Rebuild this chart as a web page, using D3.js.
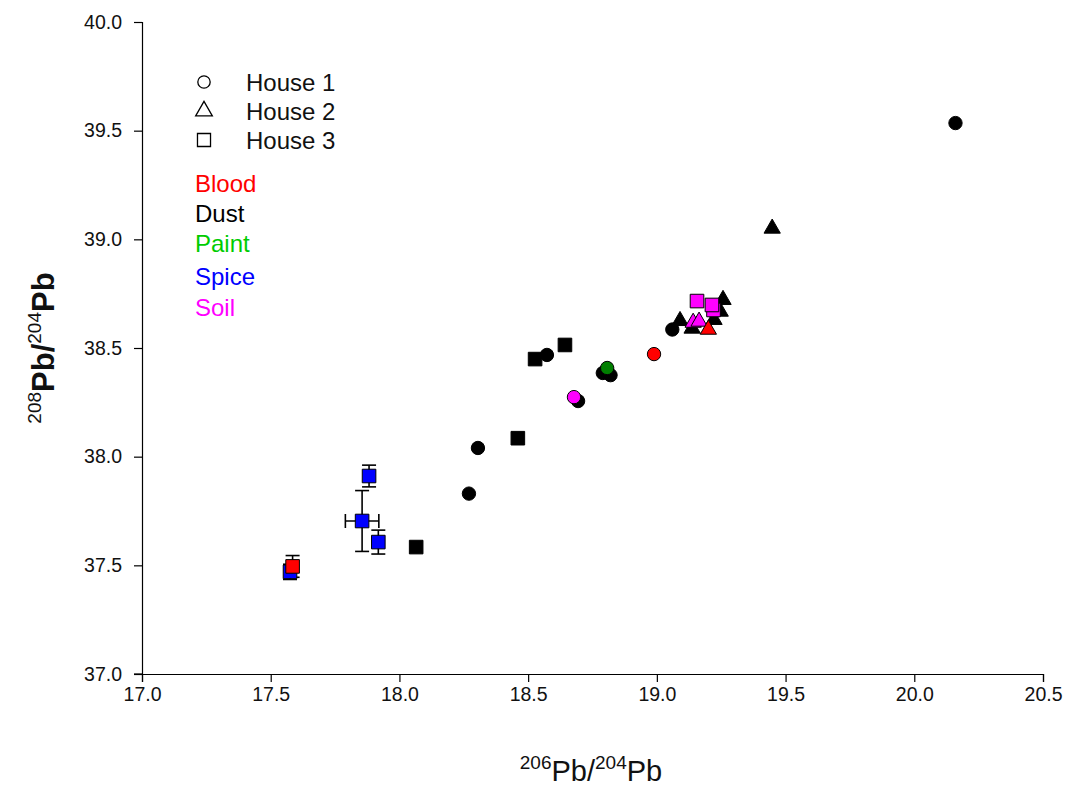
<!DOCTYPE html>
<html>
<head>
<meta charset="utf-8">
<script src="https://cdn.jsdelivr.net/npm/d3@7"></script>
<style>
  body { margin: 0; background: #fff; }
  text { font-family: "Liberation Sans", Arial, sans-serif; }
</style>
</head>
<body>
<svg id="chart" width="1073" height="786"></svg>
<script>
// ---------- data ----------
const xTicks = [17.0, 17.5, 18.0, 18.5, 19.0, 19.5, 20.0, 20.5];
const yTicks = [37.0, 37.5, 38.0, 38.5, 39.0, 39.5, 40.0];
const houses = ["House 1", "House 2", "House 3"];
const sampleTypes = ["Blood", "Dust", "Paint", "Spice", "Soil"];

// [x, y, xErr, yErr]
const house1Dust  = [[20.16, 39.535], [18.305, 38.04], [18.27, 37.83], [18.573, 38.468],
                     [18.79, 38.385], [18.82, 38.375], [18.694, 38.256], [19.06, 38.585]];
const house1Blood = [[18.989, 38.472]];
const house1Paint = [[18.807, 38.408]];
const house1Soil  = [[18.678, 38.274]];

const house2Dust  = [[19.448, 39.05], [19.09, 38.625], [19.137, 38.59], [19.222, 38.63],
                     [19.246, 38.668], [19.257, 38.722]];
const house2Blood = [[19.2, 38.585]];
const house2Soil  = [[19.141, 38.617], [19.164, 38.622]];

const house3Dust  = [[18.527, 38.449], [18.643, 38.514], [18.46, 38.085], [18.065, 37.584]];
const house3Spice = [[17.575, 37.47, 0, 0.035], [17.882, 37.911, 0, 0.05],
                     [17.855, 37.704, 0.065, 0.14], [17.918, 37.607, 0, 0.055]];
const house3Blood = [[17.585, 37.495, 0, 0.05]];
const house3Soil  = [[19.22, 38.675], [19.156, 38.716], [19.214, 38.698]];

// ---------- setup ----------
const colors = { Blood: "#ff0000", Dust: "#000000", Paint: "#007f00", Spice: "#0000ff", Soil: "#ff00ff" };
const legendColors = { Blood: "#ff0000", Dust: "#000000", Paint: "#00cc00", Spice: "#0000ff", Soil: "#ff00ff" };
const shapes = { "House 1": d3.symbolCircle, "House 2": d3.symbolTriangle, "House 3": d3.symbolSquare };
const sizes = { "House 1": 140, "House 2": 115, "House 3": 185 };

const series = [
  { house: "House 3", type: "Spice", data: house3Spice },
  { house: "House 3", type: "Blood", data: house3Blood },
  { house: "House 3", type: "Dust",  data: house3Dust },
  { house: "House 1", type: "Dust",  data: house1Dust },
  { house: "House 1", type: "Paint", data: house1Paint },
  { house: "House 1", type: "Soil",  data: house1Soil },
  { house: "House 1", type: "Blood", data: house1Blood },
  { house: "House 2", type: "Dust",  data: house2Dust },
  { house: "House 2", type: "Soil",  data: house2Soil },
  { house: "House 2", type: "Blood", data: house2Blood },
  { house: "House 3", type: "Soil",  data: house3Soil },
];

const svg = d3.select("#chart");
const m = { left: 142, top: 22, right: 1043, bottom: 674 };

const x = d3.scaleLinear().domain([17.0, 20.5]).range([m.left, m.right]);
const y = d3.scaleLinear().domain([37.0, 40.0]).range([m.bottom, m.top]);

// axes
const xAxis = svg.append("g").attr("transform", `translate(0,${m.bottom})`)
  .call(d3.axisBottom(x).tickValues(xTicks).tickFormat(d3.format(".1f")).tickSize(8).tickPadding(5));
const yAxis = svg.append("g").attr("transform", `translate(${m.left},0)`)
  .call(d3.axisLeft(y).tickValues(yTicks).tickFormat(d3.format(".1f")).tickSize(8).tickPadding(12));
[xAxis, yAxis].forEach(a => {
  a.selectAll("path").attr("stroke", "#000").attr("stroke-width", 1.2);
  a.selectAll("line").attr("stroke", "#000").attr("stroke-width", 1.2);
  a.selectAll("text").attr("font-size", 19.5).attr("fill", "#111")
    .attr("font-family", "'Liberation Sans', Arial, sans-serif");
});
svg.append("line").attr("x1", m.left - 8).attr("x2", m.left).attr("y1", m.bottom).attr("y2", m.bottom)
  .attr("stroke", "#000").attr("stroke-width", 1.2);

// axis titles
const xt = svg.append("text").attr("x", 591).attr("y", 781).attr("text-anchor", "middle")
  .attr("font-size", 29).attr("fill", "#111");
xt.append("tspan").attr("font-size", 19).attr("dy", -12).text("206");
xt.append("tspan").attr("dy", 12).text("Pb/");
xt.append("tspan").attr("font-size", 19).attr("dy", -12).text("204");
xt.append("tspan").attr("dy", 12).text("Pb");

const yt = svg.append("text").attr("transform", "translate(54,348) rotate(-90)")
  .attr("text-anchor", "middle").attr("font-size", 31).attr("font-weight", "bold").attr("fill", "#111");
yt.append("tspan").attr("font-size", 19).attr("font-weight", "normal").attr("dy", -13).text("208");
yt.append("tspan").attr("dy", 13).text("Pb/");
yt.append("tspan").attr("font-size", 19).attr("font-weight", "normal").attr("dy", -13).text("204");
yt.append("tspan").attr("dy", 13).text("Pb");

// error bars
const eb = svg.append("g").attr("stroke", "#000").attr("stroke-width", 1.6).attr("fill", "none");
const cap = 7;
series.forEach(s => s.data.forEach(d => {
  const [vx, vy, ex, ey] = d;
  if (ey) {
    eb.append("line").attr("x1", x(vx)).attr("x2", x(vx)).attr("y1", y(vy - ey)).attr("y2", y(vy + ey));
    [vy - ey, vy + ey].forEach(v => eb.append("line")
      .attr("x1", x(vx) - cap).attr("x2", x(vx) + cap).attr("y1", y(v)).attr("y2", y(v)));
  }
  if (ex) {
    eb.append("line").attr("x1", x(vx - ex)).attr("x2", x(vx + ex)).attr("y1", y(vy)).attr("y2", y(vy));
    [vx - ex, vx + ex].forEach(v => eb.append("line")
      .attr("x1", x(v)).attr("x2", x(v)).attr("y1", y(vy) - cap).attr("y2", y(vy) + cap));
  }
}));

// markers
const pts = svg.append("g");
series.forEach(s => {
  const sym = d3.symbol().type(shapes[s.house]).size(sizes[s.house]);
  pts.selectAll(null).data(s.data).enter().append("path")
    .attr("d", sym)
    .attr("transform", d => `translate(${x(d[0])},${y(d[1])})`)
    .attr("fill", colors[s.type])
    .attr("stroke", "#000").attr("stroke-width", 1);
});

// legend: houses
const lg = svg.append("g");
const legSizes = { "House 1": 120, "House 2": 120, "House 3": 170 };
houses.forEach((h, i) => {
  const yy = 82 + i * 29;
  lg.append("path").attr("d", d3.symbol().type(shapes[h]).size(legSizes[h])())
    .attr("transform", `translate(204,${yy})`).attr("fill", "none").attr("stroke", "#000").attr("stroke-width", 1.3);
  lg.append("text").attr("x", 246).attr("y", yy + 9).attr("font-size", 24).attr("fill", "#111").text(h);
});
// legend: sample types
sampleTypes.forEach((t, i) => {
  const yy = [183, 213, 243, 276, 307][i];
  lg.append("text").attr("x", 195).attr("y", yy + 9).attr("font-size", 24)
    .attr("fill", legendColors[t]).text(t);
});
</script>
</body>
</html>
